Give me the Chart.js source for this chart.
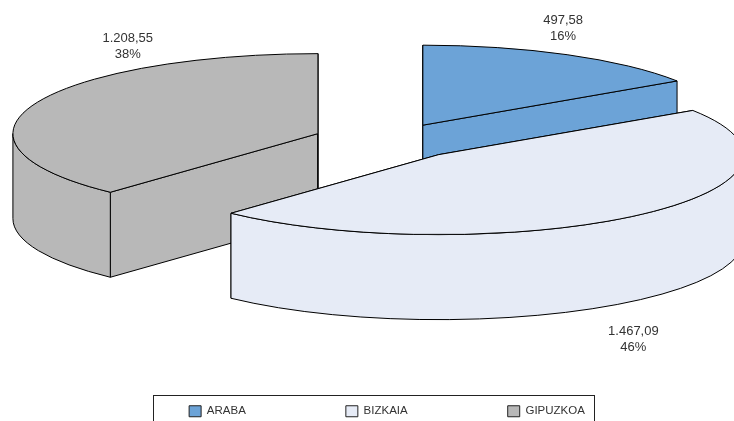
<!DOCTYPE html>
<html>
<head>
<meta charset="utf-8">
<style>html,body{margin:0;padding:0;background:#fff;overflow:hidden}#wrap{width:734px;height:421px}</style>
<script src="https://cdn.jsdelivr.net/npm/chart.js@4"></script>
</head>
<body>
<div id="wrap"><canvas id="c" width="734" height="421"></canvas></div>
<script>
const categories = ['ARABA', 'BIZKAIA', 'GIPUZKOA'];
const values = [497.58, 1467.09, 1208.55];
const valueLabels = ['497,58', '1.467,09', '1.208,55'];
const percentLabels = ['16%', '46%', '38%'];
const colors = ['#6CA3D7', '#E6EBF6', '#B8B8B8'];

// 3D look of the pie (styling only)
const SQUASH = 0.2623, DEPTH = 85, NUDGE = {x: 5, y: -12.5};
const explodeX = [0.214, 0.236, 0.261];
const explodeY = [0.214, 0.236, 0.226];
const labelShift = [[-4, -34.5], [-2.6, 115.5], [93.7, -66]];
const paintOrder = [2, 0, 1];

function sliceGeom(el, i) {
  const mid = (el.startAngle + el.endAngle) / 2, rx = el.outerRadius, ry = rx * SQUASH;
  return {
    mid, rx, ry, s: el.startAngle, e: el.endAngle,
    cx: el.x + NUDGE.x + Math.cos(mid) * rx * explodeX[i],
    cy: el.y + NUDGE.y + Math.sin(mid) * ry * explodeY[i]
  };
}
function paint(ctx) { ctx.fill(); ctx.stroke(); }

const pie3d = {
  id: 'pie3d',
  beforeDatasetDraw() { return false; },
  afterDatasetsDraw(chart) {
    const ctx = chart.ctx, meta = chart.getDatasetMeta(0);
    ctx.save();
    ctx.lineWidth = 1; ctx.strokeStyle = '#000'; ctx.lineJoin = 'round';
    paintOrder.forEach(i => {
      const g = sliceGeom(meta.data[i], i), {cx, cy, rx, ry, s, e} = g;
      ctx.fillStyle = colors[i];
      // radial walls
      [s, e].forEach(a => {
        const px = cx + Math.cos(a) * rx, py = cy + Math.sin(a) * ry;
        ctx.beginPath();
        ctx.moveTo(cx, cy); ctx.lineTo(px, py);
        ctx.lineTo(px, py + DEPTH); ctx.lineTo(cx, cy + DEPTH);
        ctx.closePath(); paint(ctx);
      });
      // outer curved wall: only the part facing the viewer
      const TAU = Math.PI * 2;
      for (const k of [-1, 0, 1]) {
        const a0 = Math.max(s, k * TAU), a1 = Math.min(e, k * TAU + Math.PI);
        if (a1 > a0) {
          ctx.beginPath();
          ctx.ellipse(cx, cy, rx, ry, 0, a0, a1);
          ctx.ellipse(cx, cy + DEPTH, rx, ry, 0, a1, a0, true);
          ctx.closePath(); paint(ctx);
        }
      }
      // top face
      ctx.beginPath();
      ctx.moveTo(cx, cy);
      ctx.ellipse(cx, cy, rx, ry, 0, s, e);
      ctx.closePath(); paint(ctx);
    });
    // value labels
    ctx.fillStyle = '#333';
    ctx.font = "13px 'Liberation Sans', Arial, sans-serif";
    ctx.textAlign = 'center'; ctx.textBaseline = 'middle';
    meta.data.forEach((el, i) => {
      const g = sliceGeom(el, i);
      const x = g.cx + Math.cos(g.mid) * g.rx + labelShift[i][0];
      const y = g.cy + Math.sin(g.mid) * g.ry + labelShift[i][1];
      ctx.fillText(valueLabels[i], x, y);
      ctx.fillText(percentLabels[i], x, y + 16);
    });
    ctx.restore();
  },
  afterDraw(chart) {
    // open-bottomed frame round the legend
    const boxes = chart.legend.legendHitBoxes, ctx = chart.ctx;
    const first = boxes[0], last = boxes[boxes.length - 1];
    const l = Math.round(first.left - 36) + 0.5, r = Math.round(last.left + last.width + 9) + 0.5;
    const t = Math.round(first.top - 11) + 0.5;
    ctx.save();
    ctx.strokeStyle = '#222'; ctx.lineWidth = 1;
    ctx.strokeRect(l, t, r - l, 60);
    ctx.restore();
  }
};

new Chart(document.getElementById('c'), {
  type: 'pie',
  plugins: [pie3d],
  data: {
    labels: categories,
    datasets: [{ data: values, backgroundColor: colors, borderColor: '#222', borderWidth: 1 }]
  },
  options: {
    responsive: false,
    animation: false,
    events: [],
    radius: 305,
    layout: { padding: { left: 40, top: 0, bottom: -6 } },
    plugins: {
      tooltip: { enabled: false },
      legend: {
        position: 'bottom',
        labels: {
          boxWidth: 12, boxHeight: 11, padding: 100, color: '#333',
          font: { family: "'Liberation Sans', Arial, sans-serif", size: 11.5 }
        }
      }
    }
  }
});
</script>
</body>
</html>
